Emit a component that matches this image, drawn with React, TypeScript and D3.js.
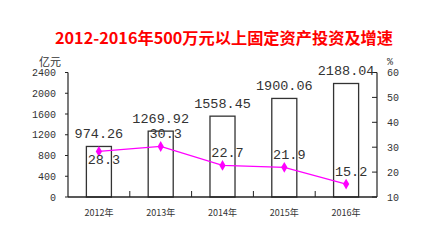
import React from "react";
import * as d3 from "d3";

const years = ["2012年", "2013年", "2014年", "2015年", "2016年"];
const investment = [974.26, 1269.92, 1558.45, 1900.06, 2188.04];
const growth = [28.3, 30.3, 22.7, 21.9, 15.2];
const leftTicks = [0, 400, 800, 1200, 1600, 2000, 2400];
const rightTicks = [10, 20, 30, 40, 50, 60];
const growthLabelSide = ["below", "above", "above", "above", "above"];

const W = 440;
const H = 247;
const mono = "'Liberation Mono', 'DejaVu Sans Mono', monospace";
const cjk = "'Noto Sans CJK SC', 'Liberation Mono', sans-serif";

export default function App() {
  const x = d3.scaleBand<string>().domain(years).range([68, 377]).padding(0);
  const yL = d3.scaleLinear().domain([0, 2400]).range([197, 72.5]);
  const yR = d3.scaleLinear().domain([10, 60]).range([197, 72.5]);
  const barW = x.bandwidth() * 0.405;
  const cx = (d: string) => (x(d) as number) + x.bandwidth() / 2;

  const line = d3
    .line<number>()
    .x((_, i) => cx(years[i]))
    .y((d) => yR(d));
  const diamond = d3.symbol().type(d3.symbolDiamond).size(34)();

  const x0 = x.range()[0];
  const x1 = x.range()[1];
  const axisColor = "#222";

  return (
    <svg
      width={W}
      height={H}
      style={{ position: "absolute", left: 0, top: 0, background: "#fff" }}
    >
      <rect width={W} height={H} fill="#fff" />
      <text
        x={224}
        y={44}
        textAnchor="middle"
        fontFamily={cjk}
        fontWeight="bold"
        fontSize={15.5}
        fill="#ff0000"
        textLength={338}
        lengthAdjust="spacingAndGlyphs"
      >
        2012-2016年500万元以上固定资产投资及增速
      </text>

      {/* units */}
      <text x={50} y={66} textAnchor="middle" fontFamily={cjk} fontSize={11} fill="#333">
        亿元
      </text>
      <text x={387} y={65} fontFamily={mono} fontSize={10} fill="#333">
        %
      </text>

      {/* bars */}
      {investment.map((v, i) => (
        <rect
          key={"b" + i}
          x={cx(years[i]) - barW / 2}
          y={yL(v)}
          width={barW}
          height={yL(0) - yL(v)}
          fill="#fff"
          stroke="#333"
          strokeWidth={1.3}
        />
      ))}

      {/* left axis */}
      <line x1={x0} x2={x0} y1={yL(2400)} y2={yL(0)} stroke={axisColor} strokeWidth={1.2} />
      {leftTicks.map((t) => (
        <g key={"lt" + t}>
          <line x1={x0 - 3} x2={x0} y1={yL(t)} y2={yL(t)} stroke={axisColor} strokeWidth={1} />
          <text
            x={56}
            y={yL(t) + 3.5}
            textAnchor="end"
            fontFamily={mono}
            fontSize={10}
            fill="#333"
          >
            {t}
          </text>
        </g>
      ))}

      {/* right axis */}
      <line x1={x1} x2={x1} y1={yR(60)} y2={yR(10)} stroke={axisColor} strokeWidth={1.2} />
      {rightTicks.map((t) => (
        <g key={"rt" + t}>
          <line x1={x1 - 5} x2={x1} y1={yR(t)} y2={yR(t)} stroke={axisColor} strokeWidth={1} />
          <text x={387} y={yR(t) + 3.5} fontFamily={mono} fontSize={10} fill="#333">
            {t}
          </text>
        </g>
      ))}

      {/* bottom axis */}
      <line x1={x0} x2={x1} y1={yL(0)} y2={yL(0)} stroke={axisColor} strokeWidth={1.3} />
      {years.slice(1).map((yr) => (
        <line
          key={"bt" + yr}
          x1={x(yr) as number}
          x2={x(yr) as number}
          y1={yL(0)}
          y2={yL(0) - 6}
          stroke={axisColor}
          strokeWidth={1}
        />
      ))}
      {years.map((yr) => (
        <text
          key={"xl" + yr}
          x={cx(yr)}
          y={216}
          textAnchor="middle"
          fontFamily={cjk}
          fontSize={9}
          fill="#333"
        >
          {yr}
        </text>
      ))}

      {/* bar labels */}
      {investment.map((v, i) => (
        <text
          key={"bl" + i}
          x={cx(years[i])}
          y={yL(v) - 8.5}
          textAnchor="middle"
          fontFamily={mono}
          fontSize={13.5}
          fill="#333"
        >
          {v.toFixed(2)}
        </text>
      ))}

      {/* growth line */}
      <path d={line(growth) || ""} fill="none" stroke="#ff00ff" strokeWidth={1.3} />
      {growth.map((g, i) => (
        <path
          key={"m" + i}
          d={diamond || ""}
          transform={`translate(${cx(years[i])},${yR(g)})`}
          fill="#ff00ff"
        />
      ))}
      {growth.map((g, i) => (
        <text
          key={"gl" + i}
          x={cx(years[i]) + 5}
          y={growthLabelSide[i] === "below" ? yR(g) + 12.5 : yR(g) - 8}
          textAnchor="middle"
          fontFamily={mono}
          fontSize={13.5}
          fill="#333"
        >
          {g.toFixed(1)}
        </text>
      ))}
    </svg>
  );
}
